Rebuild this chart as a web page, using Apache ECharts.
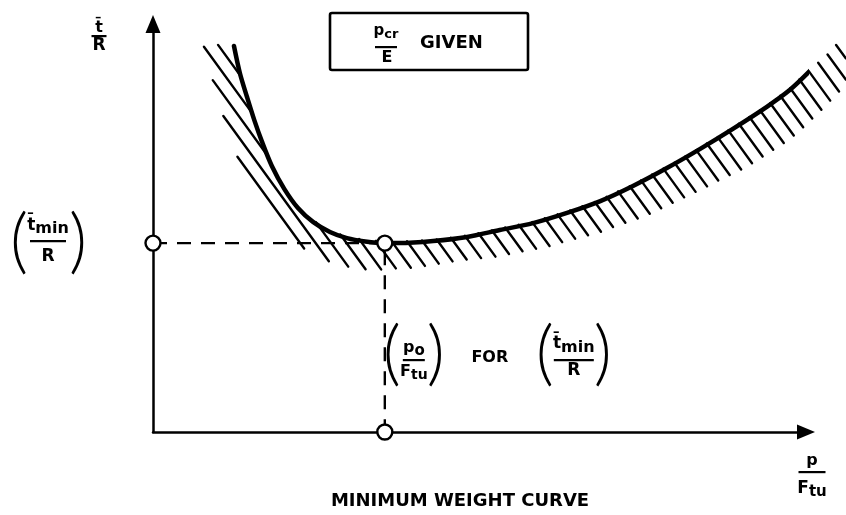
<!DOCTYPE html>
<html>
<head>
<meta charset="utf-8">
<script src="https://cdn.jsdelivr.net/npm/echarts@6/dist/echarts.min.js"></script>
<style>
  html, body { margin: 0; padding: 0; background: #fff; }
  #chart { width: 846px; height: 515px; }
</style>
</head>
<body>
<div id="chart"></div>
<script>
// Minimum weight curve: wall-thickness ratio t/R against load ratio p/Ftu (schematic units 0-100)
const weightCurve = [
  [12.4, 94.6], [13.3, 88.0], [14.4, 82.1], [15.5, 76.5], [16.7, 71.1],
  [18.2, 65.2], [20.1, 59.6], [22.2, 54.9], [24.5, 51.5], [27.1, 49.0],
  [29.7, 47.5], [32.5, 46.7], [35.5, 46.3], [37.8, 46.3], [42.9, 46.8],
  [48.1, 47.8], [53.1, 49.5], [58.2, 51.2], [63.4, 53.7], [68.5, 56.6],
  [73.5, 60.3], [78.7, 64.7], [83.8, 69.4], [88.8, 74.3], [94.0, 79.7],
  [97.5, 83.8], [100.6, 88.5]
];
// the hatched boundary carries on past the drawn end of the curve
const hatchTail = [[103.4, 92.4], [106.1, 97.3]];
// outer limit of the hatched (excluded) band below the curve
const hatchEdge = [
  [7.8, 94.1], [8.3, 92.4], [9.2, 85.8], [10.6, 78.2], [12.6, 68.6],
  [14.9, 60.5], [17.9, 52.0], [21.0, 47.1], [23.7, 44.4], [27.1, 41.7],
  [30.6, 40.2], [33.7, 39.7], [36.8, 40.0], [39.8, 40.2], [45.5, 41.7],
  [53.1, 43.1], [60.8, 45.6], [68.5, 49.0], [76.1, 53.4], [83.8, 59.3],
  [91.4, 65.4], [97.5, 71.6], [102.1, 78.4], [106.1, 85.0]
];
// optimum: (p0/Ftu, tmin/R)
const minPoint = [35.5, 46.3];
const axisRange = [0, 100];

const HATCH_ANGLE = 54;   // degrees below horizontal
const HATCH_STEP = 12.5;  // px between hatch lines
const FONT = '"DejaVu Sans", "Liberation Sans", sans-serif';
const PAREN_FONT = 'Lato, "DejaVu Sans", sans-serif';

function interpY(poly, x) {
  if (x <= poly[0][0]) return poly[0][1];
  for (let i = 1; i < poly.length; i++) {
    if (x <= poly[i][0]) {
      const a = poly[i - 1], b = poly[i];
      return a[1] + (b[1] - a[1]) * (x - a[0]) / (b[0] - a[0]);
    }
  }
  return poly[poly.length - 1][1];
}

// Parallel hatch lines clipped to the band between the curve and its hatch edge
function renderHatch(params, api) {
  const top = weightCurve.concat(hatchTail).map(p => api.coord(p));
  const edge = hatchEdge.map(p => api.coord(p));
  const ang = HATCH_ANGLE * Math.PI / 180;
  const dx = Math.cos(ang), dy = Math.sin(ang);
  const nx = dy, ny = -dx;
  const xLo = edge[0][0];
  const xHi = Math.min(edge[edge.length - 1][0], top[top.length - 1][0]);
  const inside = (x, y) => x >= xLo && x <= xHi && y > interpY(top, x) - 1.5 && y < interpY(edge, x);
  let cMin = Infinity, cMax = -Infinity;
  top.concat(edge).forEach(p => {
    const c = p[0] * nx + p[1] * ny;
    cMin = Math.min(cMin, c); cMax = Math.max(cMax, c);
  });
  const children = [];
  const push = r => {
    if (Math.hypot(r[2] - r[0], r[3] - r[1]) > 3) {
      children.push({
        type: 'line',
        shape: { x1: r[0], y1: r[1], x2: r[2], y2: r[3] },
        style: { stroke: '#000', lineWidth: 2.4, lineCap: 'round' }
      });
    }
  };
  for (let c = Math.floor(cMin / HATCH_STEP) * HATCH_STEP; c <= cMax; c += HATCH_STEP) {
    const ox = c * nx, oy = c * ny;
    const t0 = (xLo - ox) / dx, t1 = (xHi - ox) / dx;
    let run = null;
    for (let t = t0; t <= t1 + 0.5; t += 0.5) {
      const x = ox + t * dx, y = oy + t * dy;
      if (inside(x, y)) {
        if (!run) run = [x, y, x, y]; else { run[2] = x; run[3] = y; }
      } else if (run) { push(run); run = null; }
    }
    if (run) push(run);
  }
  return { type: 'group', children: children };
}

const axisCommon = {
  type: 'value',
  min: axisRange[0],
  max: axisRange[1],
  axisLine: {
    show: true, onZero: false,
    symbol: ['none', 'triangle'], symbolSize: [15, 18],
    lineStyle: { color: '#000', width: 2.5 }
  },
  axisTick: { show: false },
  axisLabel: { show: false },
  splitLine: { show: false }
};

const chart = echarts.init(document.getElementById('chart'));
const guide = [[0, minPoint[1]], [minPoint[0], minPoint[1]], [minPoint[0], 0]];

chart.setOption({
  animation: false,
  backgroundColor: '#fff',
  grid: { left: 153, right: 40, top: 24, bottom: 83 },
  xAxis: axisCommon,
  yAxis: axisCommon,
  series: [
    {
      type: 'custom', coordinateSystem: 'cartesian2d', silent: true, clip: false,
      renderItem: renderHatch, data: [[0, 0]], z: 1
    },
    {
      type: 'line', data: guide, symbol: 'none', silent: true, z: 2,
      lineStyle: { color: '#000', width: 2.4, type: [14, 10] }
    },
    {
      type: 'line', data: weightCurve, symbol: 'none', smooth: 0.3, silent: true, clip: false, z: 3,
      lineStyle: { color: '#000', width: 4.5, cap: 'round' }
    },
    {
      type: 'scatter', data: guide, symbol: 'circle', symbolSize: 15, silent: true, clip: false, z: 5,
      itemStyle: { color: '#fff', borderColor: '#000', borderWidth: 2.4, opacity: 1 }
    }
  ]
});

// ---- annotation text -------------------------------------------------------
const mctx = document.createElement('canvas').getContext('2d');
function fontOf(size, weight, family) { return (weight || 'bold') + ' ' + size + 'px ' + (family || FONT); }
function widthOf(s, size, weight) { mctx.font = fontOf(size, weight); return mctx.measureText(s).width; }

function txt(s, x, baseline, size, opts) {
  opts = opts || {};
  return {
    type: 'text', x: x, y: baseline - 0.35 * size, silent: true, z: 10,
    style: {
      text: s, fill: '#000', font: fontOf(size, opts.weight, opts.family),
      align: opts.align || 'left', verticalAlign: 'middle'
    }
  };
}
// a row of pieces [text, size, baseline shift] centred on cx
function row(parts, cx, baseline) {
  const total = parts.reduce((w, p) => w + widthOf(p[0], p[1]), 0);
  let x = cx - total / 2;
  return parts.map(p => {
    const el = txt(p[0], x, baseline + (p[2] || 0), p[1]);
    x += widthOf(p[0], p[1]);
    return el;
  });
}
function bar(cx, y, w) {
  return { type: 'rect', silent: true, z: 10, shape: { x: cx - w / 2, y: y - 1, width: w, height: 2.2 }, style: { fill: '#000' } };
}
function paren(ch, x, mid) {
  return {
    type: 'text', x: x, y: mid, silent: true, z: 10,
    style: { text: ch, fill: '#000', font: fontOf(70, 300, PAREN_FONT), align: 'center', verticalAlign: 'middle' }
  };
}

const O = chart.convertToPixel({ gridIndex: 0 }, [0, 0]);
const M = chart.convertToPixel({ gridIndex: 0 }, minPoint);
const XE = chart.convertToPixel({ gridIndex: 0 }, [axisRange[1], 0]);
const YE = chart.convertToPixel({ gridIndex: 0 }, [0, axisRange[1]]);
const T = 't\u0304';

let els = [];
// y axis name  t/R
els = els.concat(row([[T, 16]], O[0] - 54, YE[1] + 9));
els.push(bar(O[0] - 54, YE[1] + 12, 15));
els = els.concat(row([['R', 17]], O[0] - 54, YE[1] + 28));

// ( tmin / R ) at the minimum level
const lx = O[0] - 105;
els = els.concat(row([[T, 17], ['min', 16, 3]], lx, M[1] - 12));
els.push(bar(lx, M[1] - 2, 36));
els = els.concat(row([['R', 17]], lx, M[1] + 19));
els.push(paren('(', O[0] - 134, M[1] - 1));
els.push(paren(')', O[0] - 75, M[1] - 1));

// boxed condition  pcr / E  GIVEN
els.push({
  type: 'rect', silent: true, z: 10,
  shape: { x: 330, y: 13, width: 198, height: 57, r: 2 },
  style: { fill: 'none', stroke: '#000', lineWidth: 2.6 }
});
els = els.concat(row([['p', 15], ['cr', 13, 3]], 386, 36));
els.push(bar(386, 47, 22));
els = els.concat(row([['E', 16]], 387, 63));
els.push(txt('GIVEN', 420, 50, 18));

// ( p0 / Ftu )  FOR  ( tmin / R )
const by = O[1] - 72;
const bx = M[0] + 29;
els = els.concat(row([['p', 16], ['o', 15, 3]], bx, by - 7));
els.push(bar(bx, by, 22));
els = els.concat(row([['F', 16], ['tu', 14, 3]], bx, by + 17));
els.push(paren('(', M[0] + 7, by - 6));
els.push(paren(')', M[0] + 51, by - 6));
els.push(txt('FOR', M[0] + 105, by + 3, 16, { align: 'center' }));
const rx = M[0] + 189;
els = els.concat(row([[T, 17], ['min', 16, 3]], rx, by - 10));
els.push(bar(rx, by, 40));
els = els.concat(row([['R', 17]], rx, by + 17));
els.push(paren('(', M[0] + 160, by - 6));
els.push(paren(')', M[0] + 218, by - 6));

// x axis name  p / Ftu
const xx = XE[0] + 6;
els = els.concat(row([['p', 16]], xx, O[1] + 34));
els.push(bar(xx, O[1] + 40, 27));
els = els.concat(row([['F', 17], ['tu', 15, 2]], xx, O[1] + 63));

// caption
els.push(txt('MINIMUM WEIGHT CURVE', O[0] + 307, O[1] + 76, 18, { align: 'center' }));

chart.setOption({ graphic: { elements: els } });
</script>
</body>
</html>
